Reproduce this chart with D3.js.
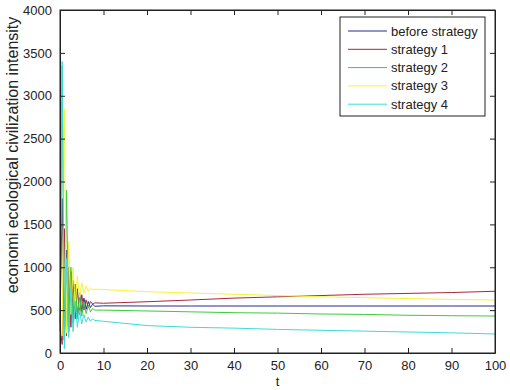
<!DOCTYPE html>
<html>
<head>
    <script src="https://d3js.org/d3.v7.min.js"></script>
    <style>
        body { margin: 0; background: #fff; font-family: "Liberation Sans", Arial, sans-serif; }
        svg { display: block; }
        .tick-label { font-size: 13px; fill: #222; }
        .y-title { font-size: 16px; fill: #222; }
    </style>
</head>
<body>
<div id="vis"></div>
<script>
    const width = 510, height = 390;
    const margin = {left: 60, right: 15, top: 10, bottom: 37};

    // time points
    const tValues = [0, 0.5, 1, 1.5, 2, 2.5, 3, 3.5, 4, 4.5, 5, 5.5, 6, 6.5, 7, 7.5, 8,
                     10, 20, 30, 40, 50, 60, 70, 80, 90, 100];

    const seriesNames = ['before strategy', 'strategy 1', 'strategy 2', 'strategy 3', 'strategy 4'];
    const seriesColors = ['#2b2b8a', '#a8283a', '#3ccc3c', '#f4f43a', '#3cdcdc'];

    const beforeStrategy = [350, 1800, 150, 1200, 250, 950, 350, 800, 420, 700, 480, 640, 510, 600, 530, 570, 545,
                            550, 548, 548, 548, 548, 548, 548, 548, 548, 548];
    const strategy1 = [300, 100, 1450, 200, 1000, 300, 850, 400, 750, 450, 680, 500, 620, 530, 600, 570, 585,
                       580, 598, 618, 640, 655, 670, 685, 695, 705, 720];
    const strategy2 = [250, 3350, 150, 1900, 300, 1000, 350, 800, 400, 680, 430, 600, 460, 550, 480, 520, 500,
                       500, 490, 480, 470, 465, 455, 450, 440, 435, 431];
    const strategy3 = [300, 200, 2850, 230, 1300, 450, 1000, 550, 900, 650, 820, 700, 780, 720, 760, 735, 745,
                       740, 715, 700, 685, 670, 655, 645, 635, 625, 618];
    const strategy4 = [300, 3400, 50, 1100, 180, 750, 250, 600, 300, 500, 340, 450, 360, 420, 370, 400, 380,
                       370, 320, 300, 290, 275, 265, 255, 245, 235, 222];

    const allSeries = [beforeStrategy, strategy1, strategy2, strategy3, strategy4];

    const xTicks = [0, 10, 20, 30, 40, 50, 60, 70, 80, 90, 100];
    const yTicks = [0, 500, 1000, 1500, 2000, 2500, 3000, 3500, 4000];

    const svg = d3.select('#vis').append('svg')
        .attr('width', width)
        .attr('height', height);

    const x = d3.scaleLinear().domain([0, 100]).range([margin.left, width - margin.right]);
    const y = d3.scaleLinear().domain([0, 4000]).range([height - margin.bottom, margin.top]);

    const plotW = width - margin.left - margin.right;
    const plotH = height - margin.top - margin.bottom;

    // lines
    const line = d3.line().x((d, i) => x(tValues[i])).y(d => y(d));
    svg.append('g').selectAll('path')
        .data(allSeries)
        .join('path')
        .attr('d', d => line(d))
        .attr('fill', 'none')
        .attr('stroke', (d, i) => seriesColors[i])
        .attr('stroke-width', 1);

    // axes, matlab style: ticks inside, all four sides
    const tickLen = 5;
    svg.append('g')
        .attr('transform', `translate(0,${y(0)})`)
        .call(d3.axisBottom(x).tickValues(xTicks).tickSizeInner(-tickLen).tickSizeOuter(0).tickPadding(8))
        .call(g => g.selectAll('text').attr('class', 'tick-label').attr('font-size', null).attr('font-family', null));
    svg.append('g')
        .attr('transform', `translate(0,${y(4000)})`)
        .call(d3.axisTop(x).tickValues(xTicks).tickSizeInner(-tickLen).tickSizeOuter(0).tickFormat(''));
    svg.append('g')
        .attr('transform', `translate(${x(0)},0)`)
        .call(d3.axisLeft(y).tickValues(yTicks).tickFormat(d3.format('d')).tickSizeInner(-tickLen).tickSizeOuter(0).tickPadding(8))
        .call(g => g.selectAll('text').attr('class', 'tick-label').attr('font-size', null).attr('font-family', null));
    svg.append('g')
        .attr('transform', `translate(${x(100)},0)`)
        .call(d3.axisRight(y).tickValues(yTicks).tickSizeInner(-tickLen).tickSizeOuter(0).tickFormat(''));

    svg.selectAll('.domain').attr('stroke', '#222');
    svg.selectAll('.tick line').attr('stroke', '#222');

    // frame
    svg.append('rect')
        .attr('x', margin.left).attr('y', margin.top)
        .attr('width', plotW).attr('height', plotH)
        .attr('fill', 'none').attr('stroke', '#222');

    // axis labels
    svg.append('text')
        .attr('x', x(50)).attr('y', 386)
        .attr('text-anchor', 'middle')
        .attr('class', 'tick-label')
        .text('t');
    svg.append('text')
        .attr('transform', 'translate(18,155) rotate(-90)')
        .attr('text-anchor', 'middle')
        .attr('class', 'y-title')
        .text('economi ecological civilization intensity');

    // legend
    const legend = svg.append('g').attr('transform', 'translate(340,17)');
    legend.append('rect')
        .attr('width', 145).attr('height', 99)
        .attr('fill', '#fff').attr('stroke', '#222');
    const rows = legend.selectAll('g.row')
        .data(seriesNames)
        .join('g')
        .attr('class', 'row')
        .attr('transform', (d, i) => `translate(0,${14 + i * 18.3})`);
    rows.append('line')
        .attr('x1', 8).attr('x2', 47)
        .attr('stroke', (d, i) => seriesColors[i]);
    rows.append('text')
        .attr('x', 51).attr('y', 4.5)
        .attr('class', 'tick-label')
        .text(d => d);
</script>
</body>
</html>
